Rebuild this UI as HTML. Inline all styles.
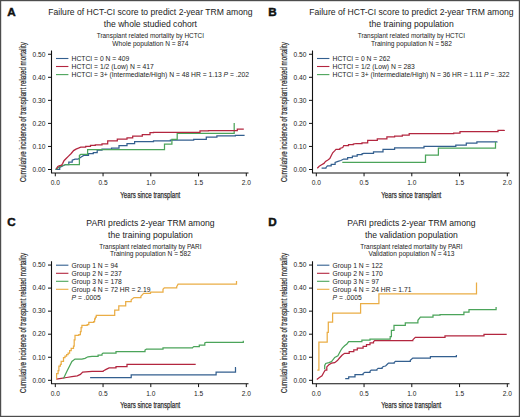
<!DOCTYPE html><html><head><meta charset="utf-8"><style>html,body{margin:0;padding:0;background:#fff;}svg{display:block;}text{font-family:"Liberation Sans", sans-serif;}</style></head><body>
<svg width="520" height="417" viewBox="0 0 520 417">
<rect x="0" y="0" width="520" height="417" fill="#fff"/>
<g transform="translate(0.00 0.00)">
<text x="7.2" y="15.8" font-size="11.70" text-anchor="start" font-weight="bold" fill="#111" stroke="#111" stroke-width="0.45">A</text>
<text x="150.4" y="15.4" font-size="8.60" text-anchor="middle" font-weight="normal" fill="#222">Failure of HCT-CI score to predict 2-year TRM among</text>
<text x="150.4" y="26.8" font-size="8.60" text-anchor="middle" font-weight="normal" fill="#222">the whole studied cohort</text>
<text x="150.4" y="38.1" font-size="6.42" text-anchor="middle" font-weight="normal" fill="#222">Transplant related mortality by HCTCI</text>
<text x="150.4" y="45.7" font-size="6.60" text-anchor="middle" font-weight="normal" fill="#222">Whole population N = 874</text>
<path d="M51.5 50.5V173.0H248.5" fill="none" stroke="#111" stroke-width="1.1"/>
<text x="45.4" y="171.8" font-size="6.60" text-anchor="end" font-weight="normal" fill="#222">0.00</text>
<text x="45.4" y="148.8" font-size="6.60" text-anchor="end" font-weight="normal" fill="#222">0.10</text>
<text x="45.4" y="125.7" font-size="6.60" text-anchor="end" font-weight="normal" fill="#222">0.20</text>
<text x="45.4" y="102.6" font-size="6.60" text-anchor="end" font-weight="normal" fill="#222">0.30</text>
<text x="45.4" y="79.6" font-size="6.60" text-anchor="end" font-weight="normal" fill="#222">0.40</text>
<text x="45.4" y="56.5" font-size="6.60" text-anchor="end" font-weight="normal" fill="#222">0.50</text>
<text x="55.3" y="185.0" font-size="6.60" text-anchor="middle" font-weight="normal" fill="#222">0.0</text>
<text x="103.0" y="185.0" font-size="6.60" text-anchor="middle" font-weight="normal" fill="#222">0.5</text>
<text x="150.8" y="185.0" font-size="6.60" text-anchor="middle" font-weight="normal" fill="#222">1.0</text>
<text x="198.6" y="185.0" font-size="6.60" text-anchor="middle" font-weight="normal" fill="#222">1.5</text>
<text x="246.3" y="185.0" font-size="6.60" text-anchor="middle" font-weight="normal" fill="#222">2.0</text>
<path d="M48.0 169.50H51.5M48.0 146.45H51.5M48.0 123.40H51.5M48.0 100.35H51.5M48.0 77.30H51.5M48.0 54.25H51.5M55.30 173.0V176.3M103.05 173.0V176.3M150.80 173.0V176.3M198.55 173.0V176.3M246.30 173.0V176.3" fill="none" stroke="#111" stroke-width="1.0"/>
<text x="150.3" y="197.7" font-size="9.40" text-anchor="middle" font-weight="normal" fill="#222" textLength="60.0" lengthAdjust="spacingAndGlyphs" stroke="#333" stroke-width="0.25">Years since transplant</text>
<text transform="translate(26.3 112.1) rotate(-90)" x="0" y="0" font-size="8.6" text-anchor="middle" fill="#222" textLength="140.0" lengthAdjust="spacingAndGlyphs" stroke="#333" stroke-width="0.2">Cumulative incidence of transplant related mortality</text>
<path d="M56 58.5H68.4" stroke="#335f8f" stroke-width="1.1"/>
<text x="71.6" y="60.9" font-size="6.75" text-anchor="start" font-weight="normal" fill="#222">HCTCI = 0 N = 409</text>
<path d="M56 66.5H68.4" stroke="#b3263f" stroke-width="1.1"/>
<text x="71.6" y="68.9" font-size="6.75" text-anchor="start" font-weight="normal" fill="#222">HCTCI = 1/2 (Low) N = 417</text>
<path d="M56 74.6H68.4" stroke="#4ba45a" stroke-width="1.1"/>
<text x="71.6" y="76.9" font-size="6.75" text-anchor="start" font-weight="normal" fill="#222">HCTCI = 3+ (Intermediate/High) N = 48 HR = 1.13 <tspan font-style="italic">P</tspan> = .202</text>
</g>
<g transform="translate(261.00 0.00)">
<text x="7.2" y="15.5" font-size="11.70" text-anchor="start" font-weight="bold" fill="#111" stroke="#111" stroke-width="0.45">B</text>
<text x="150.4" y="15.4" font-size="8.60" text-anchor="middle" font-weight="normal" fill="#222">Failure of HCT-CI score to predict 2-year TRM among</text>
<text x="150.4" y="26.8" font-size="8.60" text-anchor="middle" font-weight="normal" fill="#222">the training population</text>
<text x="150.4" y="38.1" font-size="6.42" text-anchor="middle" font-weight="normal" fill="#222">Transplant related mortality by HCTCI</text>
<text x="150.4" y="45.7" font-size="6.60" text-anchor="middle" font-weight="normal" fill="#222">Training population N = 582</text>
<path d="M51.5 50.5V173.0H248.5" fill="none" stroke="#111" stroke-width="1.1"/>
<text x="45.4" y="171.8" font-size="6.60" text-anchor="end" font-weight="normal" fill="#222">0.00</text>
<text x="45.4" y="148.8" font-size="6.60" text-anchor="end" font-weight="normal" fill="#222">0.10</text>
<text x="45.4" y="125.7" font-size="6.60" text-anchor="end" font-weight="normal" fill="#222">0.20</text>
<text x="45.4" y="102.6" font-size="6.60" text-anchor="end" font-weight="normal" fill="#222">0.30</text>
<text x="45.4" y="79.6" font-size="6.60" text-anchor="end" font-weight="normal" fill="#222">0.40</text>
<text x="45.4" y="56.5" font-size="6.60" text-anchor="end" font-weight="normal" fill="#222">0.50</text>
<text x="55.3" y="185.0" font-size="6.60" text-anchor="middle" font-weight="normal" fill="#222">0.0</text>
<text x="103.0" y="185.0" font-size="6.60" text-anchor="middle" font-weight="normal" fill="#222">0.5</text>
<text x="150.8" y="185.0" font-size="6.60" text-anchor="middle" font-weight="normal" fill="#222">1.0</text>
<text x="198.6" y="185.0" font-size="6.60" text-anchor="middle" font-weight="normal" fill="#222">1.5</text>
<text x="246.3" y="185.0" font-size="6.60" text-anchor="middle" font-weight="normal" fill="#222">2.0</text>
<path d="M48.0 169.50H51.5M48.0 146.45H51.5M48.0 123.40H51.5M48.0 100.35H51.5M48.0 77.30H51.5M48.0 54.25H51.5M55.30 173.0V176.3M103.05 173.0V176.3M150.80 173.0V176.3M198.55 173.0V176.3M246.30 173.0V176.3" fill="none" stroke="#111" stroke-width="1.0"/>
<text x="150.3" y="197.7" font-size="9.40" text-anchor="middle" font-weight="normal" fill="#222" textLength="60.0" lengthAdjust="spacingAndGlyphs" stroke="#333" stroke-width="0.25">Years since transplant</text>
<text transform="translate(26.3 112.1) rotate(-90)" x="0" y="0" font-size="8.6" text-anchor="middle" fill="#222" textLength="140.0" lengthAdjust="spacingAndGlyphs" stroke="#333" stroke-width="0.2">Cumulative incidence of transplant related mortality</text>
<path d="M56 58.5H68.4" stroke="#335f8f" stroke-width="1.1"/>
<text x="71.6" y="60.9" font-size="6.75" text-anchor="start" font-weight="normal" fill="#222">HCTCI = 0 N = 262</text>
<path d="M56 66.5H68.4" stroke="#b3263f" stroke-width="1.1"/>
<text x="71.6" y="68.9" font-size="6.75" text-anchor="start" font-weight="normal" fill="#222">HCTCI = 1/2 (Low) N = 283</text>
<path d="M56 74.6H68.4" stroke="#4ba45a" stroke-width="1.1"/>
<text x="71.6" y="76.9" font-size="6.75" text-anchor="start" font-weight="normal" fill="#222">HCTCI = 3+ (Intermediate/High) N = 36 HR = 1.11 <tspan font-style="italic">P</tspan> = .322</text>
</g>
<g transform="translate(0.00 210.80)">
<text x="7.2" y="15.3" font-size="11.70" text-anchor="start" font-weight="bold" fill="#111" stroke="#111" stroke-width="0.45">C</text>
<text x="150.4" y="15.4" font-size="8.60" text-anchor="middle" font-weight="normal" fill="#222">PARI predicts 2-year TRM among</text>
<text x="150.4" y="26.8" font-size="8.60" text-anchor="middle" font-weight="normal" fill="#222">the training population</text>
<text x="150.4" y="38.1" font-size="6.42" text-anchor="middle" font-weight="normal" fill="#222">Transplant related mortality by PARI</text>
<text x="150.4" y="45.7" font-size="6.60" text-anchor="middle" font-weight="normal" fill="#222">Training population N = 582</text>
<path d="M51.5 50.5V173.0H248.5" fill="none" stroke="#111" stroke-width="1.1"/>
<text x="45.4" y="171.8" font-size="6.60" text-anchor="end" font-weight="normal" fill="#222">0.00</text>
<text x="45.4" y="148.8" font-size="6.60" text-anchor="end" font-weight="normal" fill="#222">0.10</text>
<text x="45.4" y="125.7" font-size="6.60" text-anchor="end" font-weight="normal" fill="#222">0.20</text>
<text x="45.4" y="102.6" font-size="6.60" text-anchor="end" font-weight="normal" fill="#222">0.30</text>
<text x="45.4" y="79.6" font-size="6.60" text-anchor="end" font-weight="normal" fill="#222">0.40</text>
<text x="45.4" y="56.5" font-size="6.60" text-anchor="end" font-weight="normal" fill="#222">0.50</text>
<text x="55.3" y="185.0" font-size="6.60" text-anchor="middle" font-weight="normal" fill="#222">0.0</text>
<text x="103.0" y="185.0" font-size="6.60" text-anchor="middle" font-weight="normal" fill="#222">0.5</text>
<text x="150.8" y="185.0" font-size="6.60" text-anchor="middle" font-weight="normal" fill="#222">1.0</text>
<text x="198.6" y="185.0" font-size="6.60" text-anchor="middle" font-weight="normal" fill="#222">1.5</text>
<text x="246.3" y="185.0" font-size="6.60" text-anchor="middle" font-weight="normal" fill="#222">2.0</text>
<path d="M48.0 169.50H51.5M48.0 146.45H51.5M48.0 123.40H51.5M48.0 100.35H51.5M48.0 77.30H51.5M48.0 54.25H51.5M55.30 173.0V176.3M103.05 173.0V176.3M150.80 173.0V176.3M198.55 173.0V176.3M246.30 173.0V176.3" fill="none" stroke="#111" stroke-width="1.0"/>
<text x="150.3" y="197.7" font-size="9.40" text-anchor="middle" font-weight="normal" fill="#222" textLength="60.0" lengthAdjust="spacingAndGlyphs" stroke="#333" stroke-width="0.25">Years since transplant</text>
<text transform="translate(26.3 112.1) rotate(-90)" x="0" y="0" font-size="8.6" text-anchor="middle" fill="#222" textLength="140.0" lengthAdjust="spacingAndGlyphs" stroke="#333" stroke-width="0.2">Cumulative incidence of transplant related mortality</text>
<path d="M56 54.4H68.4" stroke="#335f8f" stroke-width="1.1"/>
<text x="71.6" y="56.8" font-size="6.75" text-anchor="start" font-weight="normal" fill="#222">Group 1 N = 94</text>
<path d="M56 62.5H68.4" stroke="#b3263f" stroke-width="1.1"/>
<text x="71.6" y="64.8" font-size="6.75" text-anchor="start" font-weight="normal" fill="#222">Group 2 N = 237</text>
<path d="M56 70.5H68.4" stroke="#4ba45a" stroke-width="1.1"/>
<text x="71.6" y="72.8" font-size="6.75" text-anchor="start" font-weight="normal" fill="#222">Group 3 N = 178</text>
<path d="M56 78.5H68.4" stroke="#eaad45" stroke-width="1.1"/>
<text x="71.6" y="80.9" font-size="6.75" text-anchor="start" font-weight="normal" fill="#222">Group 4 N = 72 HR = 2.19</text>
<text x="71.6" y="88.9" font-size="6.75" text-anchor="start" font-weight="normal" fill="#222"><tspan font-style="italic">P</tspan> = .0005</text>
</g>
<g transform="translate(261.00 210.80)">
<text x="7.2" y="15.2" font-size="11.70" text-anchor="start" font-weight="bold" fill="#111" stroke="#111" stroke-width="0.45">D</text>
<text x="150.4" y="15.4" font-size="8.60" text-anchor="middle" font-weight="normal" fill="#222">PARI predicts 2-year TRM among</text>
<text x="150.4" y="26.8" font-size="8.60" text-anchor="middle" font-weight="normal" fill="#222">the validation population</text>
<text x="150.4" y="38.1" font-size="6.42" text-anchor="middle" font-weight="normal" fill="#222">Transplant related mortality by PARI</text>
<text x="150.4" y="45.7" font-size="6.60" text-anchor="middle" font-weight="normal" fill="#222">Validation population N = 413</text>
<path d="M51.5 50.5V173.0H248.5" fill="none" stroke="#111" stroke-width="1.1"/>
<text x="45.4" y="171.8" font-size="6.60" text-anchor="end" font-weight="normal" fill="#222">0.00</text>
<text x="45.4" y="148.8" font-size="6.60" text-anchor="end" font-weight="normal" fill="#222">0.10</text>
<text x="45.4" y="125.7" font-size="6.60" text-anchor="end" font-weight="normal" fill="#222">0.20</text>
<text x="45.4" y="102.6" font-size="6.60" text-anchor="end" font-weight="normal" fill="#222">0.30</text>
<text x="45.4" y="79.6" font-size="6.60" text-anchor="end" font-weight="normal" fill="#222">0.40</text>
<text x="45.4" y="56.5" font-size="6.60" text-anchor="end" font-weight="normal" fill="#222">0.50</text>
<text x="55.3" y="185.0" font-size="6.60" text-anchor="middle" font-weight="normal" fill="#222">0.0</text>
<text x="103.0" y="185.0" font-size="6.60" text-anchor="middle" font-weight="normal" fill="#222">0.5</text>
<text x="150.8" y="185.0" font-size="6.60" text-anchor="middle" font-weight="normal" fill="#222">1.0</text>
<text x="198.6" y="185.0" font-size="6.60" text-anchor="middle" font-weight="normal" fill="#222">1.5</text>
<text x="246.3" y="185.0" font-size="6.60" text-anchor="middle" font-weight="normal" fill="#222">2.0</text>
<path d="M48.0 169.50H51.5M48.0 146.45H51.5M48.0 123.40H51.5M48.0 100.35H51.5M48.0 77.30H51.5M48.0 54.25H51.5M55.30 173.0V176.3M103.05 173.0V176.3M150.80 173.0V176.3M198.55 173.0V176.3M246.30 173.0V176.3" fill="none" stroke="#111" stroke-width="1.0"/>
<text x="150.3" y="197.7" font-size="9.40" text-anchor="middle" font-weight="normal" fill="#222" textLength="60.0" lengthAdjust="spacingAndGlyphs" stroke="#333" stroke-width="0.25">Years since transplant</text>
<text transform="translate(26.3 112.1) rotate(-90)" x="0" y="0" font-size="8.6" text-anchor="middle" fill="#222" textLength="140.0" lengthAdjust="spacingAndGlyphs" stroke="#333" stroke-width="0.2">Cumulative incidence of transplant related mortality</text>
<path d="M56 54.4H68.4" stroke="#335f8f" stroke-width="1.1"/>
<text x="71.6" y="56.8" font-size="6.75" text-anchor="start" font-weight="normal" fill="#222">Group 1 N = 122</text>
<path d="M56 62.5H68.4" stroke="#b3263f" stroke-width="1.1"/>
<text x="71.6" y="64.8" font-size="6.75" text-anchor="start" font-weight="normal" fill="#222">Group 2 N = 170</text>
<path d="M56 70.5H68.4" stroke="#4ba45a" stroke-width="1.1"/>
<text x="71.6" y="72.8" font-size="6.75" text-anchor="start" font-weight="normal" fill="#222">Group 3 N = 97</text>
<path d="M56 78.5H68.4" stroke="#eaad45" stroke-width="1.1"/>
<text x="71.6" y="80.9" font-size="6.75" text-anchor="start" font-weight="normal" fill="#222">Group 4 N = 24 HR = 1.71</text>
<text x="71.6" y="88.9" font-size="6.75" text-anchor="start" font-weight="normal" fill="#222"><tspan font-style="italic">P</tspan> = .0005</text>
</g>
<path d="M55.5 169.4H59.7V167.4L62.6 166.0L65.5 164.5H68.8V162.1H72.2V160.2L75.1 159.2L78.0 159.2L80.8 157.3L83.7 155.4H88.5V153.5H93.3V152.5H97.2V150.1H102.0V149.1H111.5V148.0H119.0V145.6H127.0V143.6H134.6V141.5H153.5V140.8H170.4V140.0H193.7V139.3H206.3V137.2H216.9V135.8H235.4V135.4H244.6V135.4" fill="none" stroke="#335f8f" stroke-width="1.25" stroke-linejoin="miter"/>
<path d="M55.5 169.4L59.2 166.9L62.6 165.5L66.4 164.5H79.4V155.4L80.8 154.4H87.6V153.5H87.6V149.6H164.5V144.2H171.9V139.3H177.2V133.4H234.2V123.0" fill="none" stroke="#4ba45a" stroke-width="1.25" stroke-linejoin="miter"/>
<path d="M56.3 168.8L57.8 166.4L59.2 165.8L61.6 165.2L62.6 163.6L64.0 160.7L66.4 158.3L68.8 155.9L71.2 153.5L73.6 150.6L76.0 149.1L78.4 148.2L80.8 147.2H85.7V146.3H90.5V145.3H95.3V144.8H102.0V143.8H107.7V140.8H117.3V139.2H127.0V137.9H132.7V136.0H142.3V134.6H150.0V132.7H153.5V132.3H193.7V132.3H200.0V130.9H208.5V130.6H237.3V129.2H243.8V129.2" fill="none" stroke="#b3263f" stroke-width="1.25" stroke-linejoin="miter"/>
<path d="M321.6 168.2H325.9V167.7L327.4 165.8H331.2V164.3H335.1V162.4L338.0 161.4L340.8 160.5L343.7 159.0H347.6V157.6H352.4V156.2H357.2V154.7H362.0V153.8L363.8 153.3H373.5V151.9H383.0V149.4H394.6V147.8H424.0V146.3H455.8V145.0H466.3V143.1H476.9V141.9H497.0V141.4" fill="none" stroke="#335f8f" stroke-width="1.25" stroke-linejoin="miter"/>
<path d="M342.3 162.4H425.5V155.2H438.4V148.2H495.5V142.1" fill="none" stroke="#4ba45a" stroke-width="1.25" stroke-linejoin="miter"/>
<path d="M317.3 168.2L319.2 166.3L321.6 164.8L324.0 163.4L325.5 161.4L327.9 160.0L329.8 158.6L331.2 155.7L332.7 152.8L334.6 150.9L336.0 149.4H339.9V148.5L342.8 147.5L343.7 145.6H348.5V144.6H353.3V144.1L356.2 143.5H362.0V142.9H367.7V140.4H377.3V138.8H386.9V136.9H394.6V136.0H402.3V135.0H409.2V133.6H453.7V133.0H460.0V131.5H498.0V130.4H504.4V130.2" fill="none" stroke="#b3263f" stroke-width="1.25" stroke-linejoin="miter"/>
<path d="M90.1 377.5H131.2V374.9H216.1V372.2H235.5V367.6L236.0 367.6" fill="none" stroke="#335f8f" stroke-width="1.25" stroke-linejoin="miter"/>
<path d="M56.3 379.2L61.2 378.3L66.6 377.5L71.9 376.7L77.3 375.9L80.4 374.4L82.7 372.1L92.0 371.3H103.1V371.0L106.1 369.4L109.1 367.9H116.0V366.6H127.0V364.3H195.7V364.3" fill="none" stroke="#b3263f" stroke-width="1.25" stroke-linejoin="miter"/>
<path d="M63.5 378.4L67.3 370.6L69.6 366.0L71.9 361.4L75.0 359.1H81.9V359.1L85.0 358.3L88.0 356.8L92.0 356.3H98.1V355.2H102.0V354.0L103.1 353.0H116.0V351.7H145.0V350.0L146.4 349.2H163.0V347.8H192.4V347.7L193.8 346.6H199.3V345.0H204.8V343.0L206.2 342.3H243.3V340.8" fill="none" stroke="#4ba45a" stroke-width="1.25" stroke-linejoin="miter"/>
<path d="M56.3 378.6H56.6V373.6H58.1V370.6H58.9V366.0H60.4V364.4H61.2V361.4H63.5V357.5H65.0V356.0H66.6V354.5H68.1V353.0H69.6V350.6H71.2V348.4H73.5V346.0H74.2V339.9H75.0V335.3H78.8V334.6H80.4V331.5H81.1V327.7H81.9V325.4H87.2V324.6H88.8V322.3H93.7V321.5H94.6V318.9H95.4V317.1H96.3V315.4H114.7V310.0H118.8V305.9H125.7V301.7H131.2V299.8L134.0 297.6H140.9V296.2L143.6 293.4H150.5V292.1H163.0V289.3L164.3 287.9H176.7V286.6L178.1 284.1H236.5V281.0" fill="none" stroke="#eaad45" stroke-width="1.25" stroke-linejoin="miter"/>
<path d="M345.2 378.7H348.7V376.9H355.0V374.6H363.1V373.5L364.8 372.3H370.0V371.2L371.2 370.0H376.9V369.4L378.1 368.3H382.1V367.5L383.3 366.5L385.6 366.0L387.3 364.2L388.5 363.1H394.2V362.5L395.4 361.3H410.3V360.3L412.8 358.0H430.4V356.7H456.4V355.0" fill="none" stroke="#335f8f" stroke-width="1.25" stroke-linejoin="miter"/>
<path d="M316.8 379.6L319.4 377.5L322.0 375.9L323.6 372.7L325.2 370.1H326.8V366.9L328.9 364.8L331.5 363.2L334.7 362.7L337.4 360.6L339.5 358.0L342.0 355.3L342.3 355.0L344.6 353.3H349.2V351.5H353.8V349.8H357.3V348.1H363.1V346.3H366.5V344.6H370.0V342.9H373.5V341.7L374.6 340.6H412.8V339.9L415.3 337.4H445.0V335.8H484.0V334.3H506.7V334.3" fill="none" stroke="#b3263f" stroke-width="1.25" stroke-linejoin="miter"/>
<path d="M324.0 368.6H324.7V365.4L325.7 363.5L328.9 362.7L331.5 361.7L333.1 359.5L334.7 357.4L337.9 355.8L339.5 352.7L341.0 350.0L342.3 348.1L344.6 345.8L346.9 344.0L348.7 341.7H361.9V340.0H370.0V339.1H390.2V336.6H391.4V330.3H394.0V325.3H405.3V322.8H417.9V320.3L420.4 317.2H433.0V315.2H440.0V314.7H463.9V312.2H469.0V309.7H496.1V307.0" fill="none" stroke="#4ba45a" stroke-width="1.25" stroke-linejoin="miter"/>
<path d="M317.3 370.2H318.9V342.1H327.2V332.4H328.3V322.2H332.6V313.2H360.6V303.5H378.9V293.8H476.5V282.5" fill="none" stroke="#eaad45" stroke-width="1.25" stroke-linejoin="miter"/>
<rect x="0.6" y="0.6" width="518.8" height="415.8" fill="none" stroke="#4d4d4d" stroke-width="1.2"/>
</svg></body></html>
